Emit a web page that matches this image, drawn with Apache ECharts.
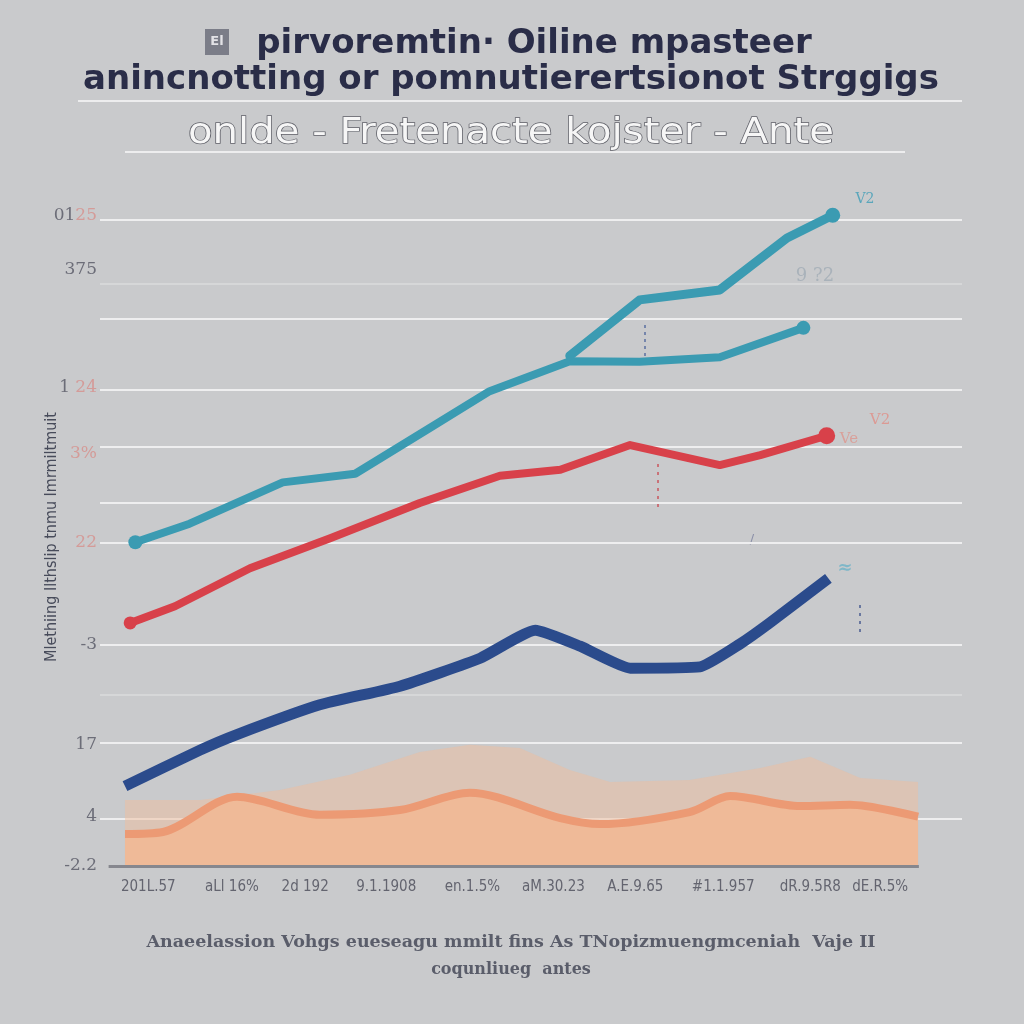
<!DOCTYPE html>
<html><head><meta charset="utf-8">
<script src="https://cdn.jsdelivr.net/npm/echarts@6/dist/echarts.min.js"></script>
<style>html,body{margin:0;padding:0;background:#c9cacc}#c{width:1024px;height:1024px}</style>
</head><body><div id="c"></div>
<script>
// ---- texts ----
const titleLine1 = "pirvoremtin\u00b7 Oiline mpasteer";
const titleLine2 = "anincnotting or pomnutierertsionot Strggigs";
const subtitle = "onlde - Fretenacte kojster - Ante";
const captionLine1 = "Anaeelassion Vohgs eueseagu mmilt fins As TNopizmuengmceniah  Vaje II";
const captionLine2 = "coqunliueg  antes";
const yAxisName = "Mlethiing Ilthslip tnmu Imrmiltmuit";

// ---- x axis tick labels (positions on the 0..100 time scale) ----
const xTickValues = [5.6, 15.3, 23.8, 33.2, 43.2, 52.6, 62.1, 72.3, 82.4, 90.5];
const xTickLabels = ["201L.57", "aLl 16%", "2d 192", "9.1.1908", "en.1.5%", "aM.30.23", "A.E.9.65", "#1.1.957", "dR.9.5R8", "dE.R.5%"];

// ---- y axis tick labels and gridlines ----
const yTickValues = [97.7, 89.5, 71.8, 61.9, 48.5, 33.2, 18.3, 7.4, 0];
const yTickLabels = ["0125", "375", "1 24", "3%", "22", "-3", "17", "4", "-2.2"];
const yTickPinkFrom = [2, 9, 2, 0, 0, 9, 9, 9, 9];
const gridValues = [97.1, 82.1, 71.5, 62.9, 54.5, 48.5, 33.2, 18.5, 7.1];
const faintGridValues = [87.4, 25.7];

// ---- series ----
const tealMain = [[4.1,48.6],[10.4,51.4],[21.2,57.6],[29.6,58.9],[38.3,65.8],[45.2,71.3],[54.5,75.8],[62.6,75.7],[71.9,76.4],[81.6,80.8]];
const tealUpper = [[54.5,76.6],[62.6,85.0],[71.9,86.5],[79.7,94.3],[85.0,97.7]];
const red = [[3.5,36.5],[8.7,39.0],[17.4,44.7],[26.7,49.2],[37.1,54.5],[46.4,58.6],[53.4,59.5],[61.5,63.2],[71.9,60.2],[76.6,61.7],[84.3,64.6]];
const navy = [[2.9,12.0],[11.6,17.4],[15.8,19.7],[25.5,24.2],[34.8,27.0],[44.1,31.2],[50.5,35.4],[55.7,33.0],[61.5,29.7],[69.6,29.9],[74.2,33.3],[77.7,36.5],[84.5,43.2]];
const orange = [[2.9,4.8],[7.3,5.1],[15.9,10.4],[25.5,7.7],[34.8,8.4],[42.9,11.0],[53.4,7.2],[58.0,6.3],[68.4,8.1],[73.1,10.5],[81.2,9.0],[87.0,9.2],[94.9,7.4]];
const orangeUpper = [[2.9,9.9],[11.6,9.9],[20.9,11.4],[29.0,13.7],[37.1,17.1],[42.9,18.2],[48.7,17.7],[54.5,14.4],[59.2,12.6],[68.4,12.9],[76.6,14.7],[82.4,16.4],[88.2,13.2],[94.9,12.6]];
const axisSpan = [1, 95];

const chart = echarts.init(document.getElementById('c'), null, {renderer: 'canvas'});

function yLabel(v) {
  const i = yTickValues.indexOf(v);
  if (i < 0) return '';
  const t = yTickLabels[i], k = yTickPinkFrom[i];
  let s = '';
  if (k > 0) s += '{g|' + t.slice(0, k) + '}';
  if (k < t.length) s += '{p|' + t.slice(k) + '}';
  return s;
}

const option = {
  backgroundColor: '#c9cacc',
  animation: false,
  grid: {left: 100, right: 62, top: 200, bottom: 158},
  xAxis: {
    type: 'value', min: 0, max: 100,
    axisLine: {show: false}, axisTick: {show: false}, splitLine: {show: false},
    axisLabel: {
      customValues: xTickValues,
      formatter: v => { const i = xTickValues.indexOf(v); return i < 0 ? '' : xTickLabels[i]; },
      color: '#63646f', fontSize: 15, fontFamily: '"Liberation Sans Narrow", "DejaVu Sans Condensed", sans-serif',
      margin: 14
    }
  },
  yAxis: [
    {
      type: 'value', min: 0, max: 100,
      axisLine: {show: false},
      axisTick: {show: false, customValues: gridValues},
      splitLine: {show: true, lineStyle: {color: '#eeeeef', width: 2}},
      axisLabel: {
        customValues: yTickValues,
        formatter: yLabel,
        margin: 3,
        rich: {
          g: {color: '#6c6d78', fontSize: 17, fontFamily: '"DejaVu Serif", serif'},
          p: {color: '#d49b98', fontSize: 17, fontFamily: '"DejaVu Serif", serif'}
        }
      }
    },
    {
      type: 'value', min: 0, max: 100, position: 'left',
      axisLine: {show: false}, axisLabel: {show: false},
      axisTick: {show: false, customValues: faintGridValues},
      splitLine: {show: true, lineStyle: {color: '#dadbdd', width: 1.5}}
    }
  ],
  series: [
    {
      type: 'line', name: 'band', data: orangeUpper, showSymbol: false, symbol: 'none',
      lineStyle: {width: 0}, areaStyle: {color: 'rgba(240,190,158,0.5)', opacity: 1}, z: 2
    },
    {
      type: 'line', name: 'orange', data: orange, showSymbol: false, symbol: 'none', smooth: 0.3,
      lineStyle: {color: '#ec9a74', width: 8, cap: 'butt'},
      areaStyle: {color: '#efba98', opacity: 1}, z: 3,
      markLine: {
        silent: true, symbol: 'none', label: {show: false},
        lineStyle: {color: '#86878e', width: 3, type: 'solid'},
        data: [[{coord: [axisSpan[0], 0]}, {coord: [axisSpan[1], 0]}]]
      }
    },
    {
      type: 'line', name: 'navy', data: navy, showSymbol: false, symbol: 'none', smooth: 0.15,
      lineStyle: {color: '#2b4b8c', width: 11, cap: 'butt', join: 'round'}, z: 5
    },
    {
      type: 'line', name: 'red', data: red, symbol: 'circle', showSymbol: true,
      symbolSize: (v, p) => p.dataIndex === red.length - 1 ? 17 : (p.dataIndex === 0 ? 13 : 0),
      itemStyle: {color: '#d8414a'},
      lineStyle: {color: '#d8414a', width: 8, cap: 'round', join: 'round'}, z: 6
    },
    {
      type: 'line', name: 'tealMain', data: tealMain, symbol: 'circle', showSymbol: true,
      symbolSize: (v, p) => (p.dataIndex === 0 || p.dataIndex === tealMain.length - 1) ? 14 : 0,
      itemStyle: {color: '#3b9bb2'},
      lineStyle: {color: '#3b9bb2', width: 8, cap: 'round', join: 'round'}, z: 6
    },
    {
      type: 'line', name: 'tealUpper', data: tealUpper, symbol: 'circle', showSymbol: true,
      symbolSize: (v, p) => p.dataIndex === tealUpper.length - 1 ? 15 : 0,
      itemStyle: {color: '#3b9bb2'},
      lineStyle: {color: '#3b9bb2', width: 9, cap: 'round', join: 'round'}, z: 6
    }
  ],
  graphic: [
    {type: 'rect', shape: {x: 205, y: 29, width: 24, height: 26}, style: {fill: '#7b7d88'}},
    {type: 'text', style: {text: 'El', x: 217, y: 42, fill: '#e2e2e6', font: 'bold 13px "DejaVu Sans"', textAlign: 'center', textVerticalAlign: 'middle'}},
    {type: 'text', style: {text: titleLine1, x: 534, y: 44, fill: '#2a2d48', font: 'bold 34px "DejaVu Sans"', textAlign: 'center', textVerticalAlign: 'middle'}},
    {type: 'text', style: {text: titleLine2, x: 511, y: 80, fill: '#2a2d48', font: 'bold 34px "DejaVu Sans"', textAlign: 'center', textVerticalAlign: 'middle'}},
    {type: 'line', shape: {x1: 78, y1: 101, x2: 962, y2: 101}, style: {stroke: '#ededee', lineWidth: 2}},
    {type: 'text', x: 511, y: 134, scaleX: 1.24, style: {text: subtitle, x: 0, y: 0, fill: '#f6f6f6', stroke: '#5f6068', lineWidth: 1.3, font: '36px "Liberation Sans Narrow", "DejaVu Sans Condensed", sans-serif', textAlign: 'center', textVerticalAlign: 'middle'}},
    {type: 'line', shape: {x1: 125, y1: 152, x2: 905, y2: 152}, style: {stroke: '#ededee', lineWidth: 2}},
    {type: 'text', rotation: Math.PI / 2, x: 52, y: 537, style: {text: yAxisName, x: 0, y: 0, fill: '#474b5a', font: '16px "Liberation Sans Narrow", "DejaVu Sans Condensed", sans-serif', textAlign: 'center', textVerticalAlign: 'middle'}},
    {type: 'text', style: {text: captionLine1, x: 511, y: 942, fill: '#5a5d6a', font: 'bold 17.5px "DejaVu Serif", serif', textAlign: 'center', textVerticalAlign: 'middle'}},
    {type: 'text', style: {text: captionLine2, x: 511, y: 970, fill: '#5a5d6a', font: 'bold 16px "DejaVu Serif", serif', textAlign: 'center', textVerticalAlign: 'middle'}},
    {type: 'text', style: {text: 'V2', x: 865, y: 199, fill: '#5aa6bb', font: '14px "DejaVu Serif"', textAlign: 'center', textVerticalAlign: 'middle'}},
    {type: 'text', style: {text: '9 ?2', x: 815, y: 276, fill: '#a9b2ba', font: '18px "DejaVu Serif"', textAlign: 'center', textVerticalAlign: 'middle'}},
    {type: 'text', style: {text: 'V2', x: 880, y: 420, fill: '#dc9a94', font: '15px "DejaVu Serif"', textAlign: 'center', textVerticalAlign: 'middle'}},
    {type: 'text', style: {text: 'Ve', x: 849, y: 439, fill: '#d9a09a', font: '15px "DejaVu Serif"', textAlign: 'center', textVerticalAlign: 'middle'}},
    {type: 'text', style: {text: '\u2248', x: 845, y: 568, fill: '#7fb7c8', font: 'bold 18px "DejaVu Sans"', textAlign: 'center', textVerticalAlign: 'middle'}},
    {type: 'line', shape: {x1: 645, y1: 325, x2: 645, y2: 360}, style: {stroke: '#5a6fa0', lineWidth: 1.5, lineDash: [3, 4]}},
    {type: 'line', shape: {x1: 658, y1: 464, x2: 658, y2: 510}, style: {stroke: '#c9555c', lineWidth: 1.5, lineDash: [3, 5]}},
    {type: 'line', shape: {x1: 860, y1: 605, x2: 860, y2: 632}, style: {stroke: '#4a5c90', lineWidth: 1.5, lineDash: [3, 5]}},
    {type: 'text', style: {text: '/', x: 752, y: 540, fill: '#8a8fa8', font: '13px "DejaVu Sans"', textAlign: 'center', textVerticalAlign: 'middle'}}
  ]
};
chart.setOption(option);
</script>
</body></html>
